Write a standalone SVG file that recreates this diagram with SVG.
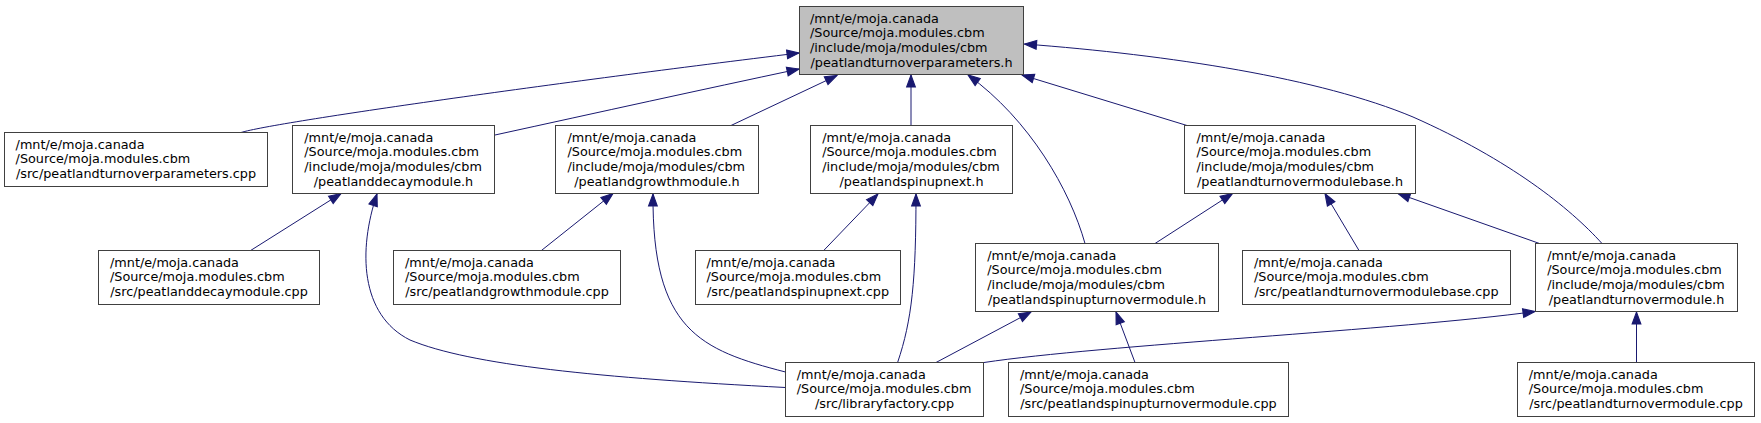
<svg xmlns="http://www.w3.org/2000/svg" width="1761" height="423" viewBox="0 0 1761 423">
<style>
.node rect{fill:#ffffff;stroke:#404040;stroke-width:1}
#root rect{fill:#bfbfbf}
text{font-family:"DejaVu Sans","Liberation Sans",sans-serif;font-size:12.8px;fill:#000}
.c{text-anchor:middle}
.edge path{fill:none;stroke:#191970;stroke-width:1;marker-end:url(#ah)}
</style>
<defs>
<marker id="ah" markerUnits="userSpaceOnUse" markerWidth="12" markerHeight="9" viewBox="0 0 11 8" refX="11" refY="4" orient="auto" overflow="visible">
<path d="M0,0 L11,4 L0,8 z" fill="#191970" stroke="#191970" stroke-width="1"/>
</marker>
</defs>
<rect width="1761" height="423" fill="#ffffff"/>
<g class="edge" id="edges">
<path d="M241,132.5 C275,122 560,82 799,53"/>
<path d="M495,135 C600,112 700,90 799,69"/>
<path d="M731,125.5 L837,75.5"/>
<path d="M911,125.5 L911,75"/>
<path d="M1085,243.5 C1070,190 1030,120 968,75"/>
<path d="M1187,125.5 L1022,75"/>
<path d="M1602,243.5 C1570,208 1510,160 1413,117 C1320,78 1170,55 1024.5,44"/>
<path d="M250.6,250.5 L341,193.5"/>
<path d="M785.5,387.5 C600,378 470,365 410,340 C360,315 358,250 377,194"/>
<path d="M541.4,250.5 L613,193.5"/>
<path d="M785.5,372 C700,350 652,330 653,194"/>
<path d="M823.7,250.5 L878,194"/>
<path d="M897.6,362.5 C912,320 916,280 916,194"/>
<path d="M936,362.5 L1031,312"/>
<path d="M1135,362.5 L1116,312"/>
<path d="M1155,243.5 L1232.5,193.5"/>
<path d="M1359,250.5 L1325,193.5"/>
<path d="M1539.5,243.5 L1398,193.5"/>
<path d="M984,362.5 C1100,345 1400,330 1535,311.5"/>
<path d="M1636.5,362.5 L1636.5,312"/>
</g>
<g class="node" id="root">
<rect x="799.5" y="6.5" width="224" height="68"/>
<text x="810"><tspan x="810" y="22.8">/mnt/e/moja.canada</tspan><tspan x="810" y="37.4">/Source/moja.modules.cbm</tspan><tspan x="810" y="52">/include/moja/modules/cbm</tspan><tspan class="c" x="911.5" y="66.6">/peatlandturnoverparameters.h</tspan></text>
</g>
<g class="node" id="n_params_cpp">
<rect x="4.5" y="132.5" width="263" height="54"/>
<text><tspan x="15.6" y="148.8">/mnt/e/moja.canada</tspan><tspan x="15.6" y="163.4">/Source/moja.modules.cbm</tspan><tspan class="c" x="136" y="178">/src/peatlandturnoverparameters.cpp</tspan></text>
</g>
<g class="node" id="n_decay_h">
<rect x="292.5" y="125.5" width="202" height="68"/>
<text><tspan x="304.3" y="141.8">/mnt/e/moja.canada</tspan><tspan x="304.3" y="156.4">/Source/moja.modules.cbm</tspan><tspan x="304.3" y="171">/include/moja/modules/cbm</tspan><tspan class="c" x="393.5" y="185.6">/peatlanddecaymodule.h</tspan></text>
</g>
<g class="node" id="n_growth_h">
<rect x="555.5" y="125.5" width="203" height="68"/>
<text><tspan x="567.5" y="141.8">/mnt/e/moja.canada</tspan><tspan x="567.5" y="156.4">/Source/moja.modules.cbm</tspan><tspan x="567.5" y="171">/include/moja/modules/cbm</tspan><tspan class="c" x="657" y="185.6">/peatlandgrowthmodule.h</tspan></text>
</g>
<g class="node" id="n_spinupnext_h">
<rect x="810.5" y="125.5" width="202" height="68"/>
<text><tspan x="822.2" y="141.8">/mnt/e/moja.canada</tspan><tspan x="822.2" y="156.4">/Source/moja.modules.cbm</tspan><tspan x="822.2" y="171">/include/moja/modules/cbm</tspan><tspan class="c" x="911.5" y="185.6">/peatlandspinupnext.h</tspan></text>
</g>
<g class="node" id="n_base_h">
<rect x="1184.5" y="125.5" width="231" height="68"/>
<text><tspan x="1196.5" y="141.8">/mnt/e/moja.canada</tspan><tspan x="1196.5" y="156.4">/Source/moja.modules.cbm</tspan><tspan x="1196.5" y="171">/include/moja/modules/cbm</tspan><tspan class="c" x="1300" y="185.6">/peatlandturnovermodulebase.h</tspan></text>
</g>
<g class="node" id="n_decay_cpp">
<rect x="98.5" y="250.5" width="221" height="54"/>
<text><tspan x="110" y="266.8">/mnt/e/moja.canada</tspan><tspan x="110" y="281.4">/Source/moja.modules.cbm</tspan><tspan class="c" x="209" y="296">/src/peatlanddecaymodule.cpp</tspan></text>
</g>
<g class="node" id="n_growth_cpp">
<rect x="393.5" y="250.5" width="227" height="54"/>
<text><tspan x="405" y="266.8">/mnt/e/moja.canada</tspan><tspan x="405" y="281.4">/Source/moja.modules.cbm</tspan><tspan class="c" x="507" y="296">/src/peatlandgrowthmodule.cpp</tspan></text>
</g>
<g class="node" id="n_spinupnext_cpp">
<rect x="695.5" y="250.5" width="205" height="54"/>
<text><tspan x="706.5" y="266.8">/mnt/e/moja.canada</tspan><tspan x="706.5" y="281.4">/Source/moja.modules.cbm</tspan><tspan class="c" x="798" y="296">/src/peatlandspinupnext.cpp</tspan></text>
</g>
<g class="node" id="n_spinupturnover_h">
<rect x="975.5" y="243.5" width="243" height="68"/>
<text><tspan x="987.3" y="259.8">/mnt/e/moja.canada</tspan><tspan x="987.3" y="274.4">/Source/moja.modules.cbm</tspan><tspan x="987.3" y="289">/include/moja/modules/cbm</tspan><tspan class="c" x="1097" y="303.6">/peatlandspinupturnovermodule.h</tspan></text>
</g>
<g class="node" id="n_base_cpp">
<rect x="1242.5" y="250.5" width="268" height="54"/>
<text><tspan x="1254" y="266.8">/mnt/e/moja.canada</tspan><tspan x="1254" y="281.4">/Source/moja.modules.cbm</tspan><tspan class="c" x="1376.5" y="296">/src/peatlandturnovermodulebase.cpp</tspan></text>
</g>
<g class="node" id="n_turnover_h">
<rect x="1535.5" y="243.5" width="202" height="68"/>
<text><tspan x="1547.2" y="259.8">/mnt/e/moja.canada</tspan><tspan x="1547.2" y="274.4">/Source/moja.modules.cbm</tspan><tspan x="1547.2" y="289">/include/moja/modules/cbm</tspan><tspan class="c" x="1636.5" y="303.6">/peatlandturnovermodule.h</tspan></text>
</g>
<g class="node" id="n_libraryfactory_cpp">
<rect x="785.5" y="362.5" width="198" height="54"/>
<text><tspan x="796.8" y="378.8">/mnt/e/moja.canada</tspan><tspan x="796.8" y="393.4">/Source/moja.modules.cbm</tspan><tspan class="c" x="884.5" y="408">/src/libraryfactory.cpp</tspan></text>
</g>
<g class="node" id="n_spinupturnover_cpp">
<rect x="1008.5" y="362.5" width="280" height="54"/>
<text><tspan x="1020" y="378.8">/mnt/e/moja.canada</tspan><tspan x="1020" y="393.4">/Source/moja.modules.cbm</tspan><tspan class="c" x="1148.5" y="408">/src/peatlandspinupturnovermodule.cpp</tspan></text>
</g>
<g class="node" id="n_turnover_cpp">
<rect x="1517.5" y="362.5" width="237" height="54"/>
<text><tspan x="1528.8" y="378.8">/mnt/e/moja.canada</tspan><tspan x="1528.8" y="393.4">/Source/moja.modules.cbm</tspan><tspan class="c" x="1636" y="408">/src/peatlandturnovermodule.cpp</tspan></text>
</g>
</svg>
